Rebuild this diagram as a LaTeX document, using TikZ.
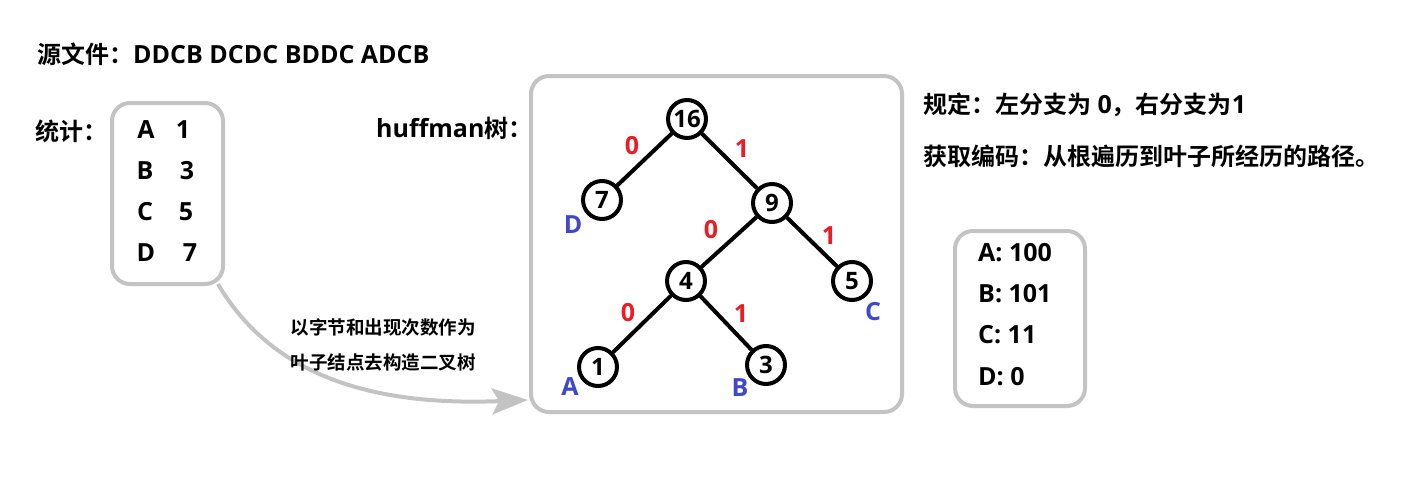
\documentclass[tikz,border=0pt]{standalone}
\usepackage{fontspec}
\setmainfont{Open Sans}[BoldFont={* Bold}]
\newfontfamily\zhfont{Noto Sans CJK SC}[BoldFont={* Bold}]
\newcommand{\zh}[1]{{\zhfont\bfseries\fontsize{24}{28}\selectfont #1}}
\usetikzlibrary{arrows.meta}
\definecolor{boxgray}{HTML}{C3C3C3}
\definecolor{lblred}{HTML}{ED1C24}
\definecolor{lblblue}{HTML}{3F48CC}
\tikzset{
  txt/.style={font=\fontsize{25}{29}\selectfont\bfseries, inner sep=0pt, anchor=west},
  ctxt/.style={font=\fontsize{25}{29}\selectfont\bfseries, inner sep=0pt},
  frame/.style={draw=boxgray, line width=4pt, rounded corners=18pt},
  tnode/.style={circle, draw=black, line width=4pt, minimum size=38pt, inner sep=0pt, font=\fontsize{24}{28}\selectfont\bfseries, fill=white},
  treeedge/.style={line width=4pt, black},
  bit/.style={font=\fontsize{25}{29}\selectfont\bfseries, text=lblred, inner sep=0pt},
  sym/.style={font=\fontsize{25}{29}\selectfont\bfseries, text=lblblue, inner sep=0pt},
  captxt/.style={inner sep=0pt},
}
\newcommand{\zhs}[1]{{\zhfont\bfseries\fontsize{18.5}{22}\selectfont #1}}
\begin{document}
\begin{tikzpicture}[x=1pt,y=-1pt]
\useasboundingbox (0,0) rectangle (1405,479);
% title
\node[txt] (src) at (37,54) {\zh{源文件：}DDCB DCDC BDDC ADCB};
% statistics
\node[txt] (stlbl) at (35,131) {\zh{统计：}};
\draw[frame] (112,103) rectangle (223,284);
\node[ctxt] (sa) at (146,130) {A};
\node[ctxt] (sb) at (145,171) {B};
\node[ctxt] (sc) at (145,212) {C};
\node[ctxt] (sd) at (146,253) {D};
\node[ctxt] (na) at (183,130) {1};
\node[ctxt] (nb) at (187,171) {3};
\node[ctxt] (nc) at (186,212) {5};
\node[ctxt] (nd) at (190,253) {7};
% arrow
\coordinate (arrs) at (218,284);
\coordinate (arre) at (528,400);
\draw[draw=boxgray, line width=4pt, -{Stealth[length=36pt,width=26pt,inset=7pt]}] (arrs) .. controls (280,390) and (400,405) .. (arre);
\node[captxt] (cap1) at (383,327) {\zhs{以字节和出现次数作为}};
\node[captxt] (cap2) at (383,362) {\zhs{叶子结点去构造二叉树}};
% tree
\node[txt] (hlbl) at (376,128) {huffman\zh{树：}};
\draw[frame] (531,76) rectangle (902,412);
\node[tnode] (n16) at (687,119) {16};
\node[tnode] (n7) at (602,200) {7};
\node[tnode] (n9) at (772,203) {9};
\node[tnode] (n4) at (686,281) {4};
\node[tnode] (n5) at (852,281) {5};
\node[tnode] (n1) at (598,367) {1};
\node[tnode] (n3) at (766,365) {3};
\draw[treeedge] (n16) -- (n7);
\draw[treeedge] (n16) -- (n9);
\draw[treeedge] (n9) -- (n4);
\draw[treeedge] (n9) -- (n5);
\draw[treeedge] (n4) -- (n1);
\draw[treeedge] (n4) -- (n3);
\node[bit] (b1) at (632,146) {0};
\node[bit] (b2) at (742,149) {1};
\node[bit] (b3) at (711,230) {0};
\node[bit] (b4) at (829,236) {1};
\node[bit] (b5) at (628,313) {0};
\node[bit] (b6) at (741,314) {1};
\node[sym] (lD) at (573,225) {D};
\node[sym] (lC) at (873,312) {C};
\node[sym] (lA) at (570,387) {A};
\node[sym] (lB) at (740,388) {B};
% rules
\node[txt] (rule1) at (923,105) {\zh{规定：左分支为} 0\zh{，右分支为}1};
\node[txt] (rule2) at (923,156) {\zh{获取编码：从根遍历到叶子所经历的路径。}};
% codes
\draw[frame] (955,231) rectangle (1085,406);
\node[txt] (cA) at (978,253) {A: 100};
\node[txt] (cB) at (978,294) {B: 101};
\node[txt] (cC) at (978,335) {C: 11};
\node[txt] (cD) at (978,377) {D: 0};
\end{tikzpicture}
\end{document}
